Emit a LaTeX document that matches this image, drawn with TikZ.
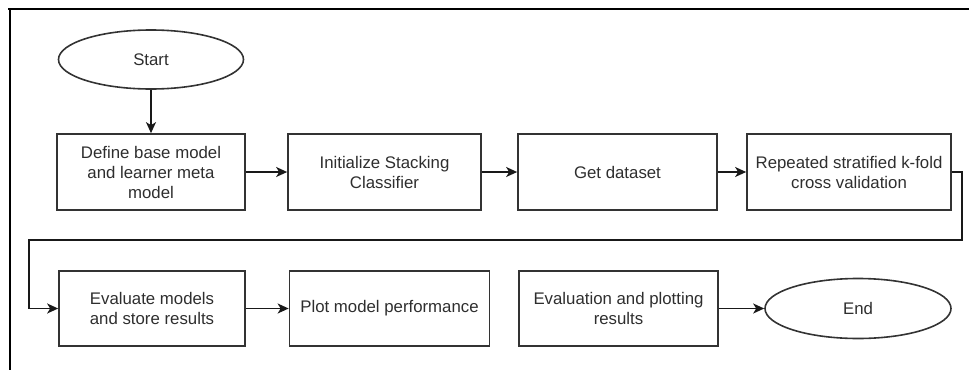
\documentclass[tikz,border=0pt]{standalone}
\usepackage{fontspec}
\setmainfont{Liberation Sans}
\usetikzlibrary{shapes.geometric,arrows.meta}

\begin{document}
\begin{tikzpicture}[x=1pt,y=-1pt,
  every node/.style={font=\fontsize{16.8}{20}\selectfont, text=black!82, align=center, inner sep=0pt},
  procbox/.style={draw=black!80, line width=1.7pt, rectangle, minimum height=76pt},
  terminal/.style={draw=black!80, line width=1.6pt, ellipse, minimum height=59pt},
  flow/.style={draw=black!90, line width=1.6pt, -{Stealth[length=11pt,width=10pt,inset=3pt]}},
  frame/.style={draw=black, line width=2.4pt}
]
\useasboundingbox (0,0) rectangle (969,370);

% page frame (top and left edges)
\draw[frame] (8,9) -- (969,9);
\draw[frame] (10,9) -- (10,370);

% first row
\node[terminal, minimum width=185pt] (start) at (151,59.5) {Start};
\node[procbox, minimum width=188pt] (define) at (151,172) {Define base model\\and learner meta\\model};
\node[procbox, minimum width=193pt] (init) at (384.5,172) {Initialize Stacking\\Classifier};
\node[procbox, minimum width=199pt] (data) at (617.5,172) {Get dataset};
\node[procbox, minimum width=204pt] (rskf) at (849,172) {Repeated stratified k-fold\\cross validation};

% second row
\node[procbox, minimum width=186pt, minimum height=75pt] (evalm) at (152,308.5) {Evaluate models\\and store results};
\node[procbox, minimum width=200pt, minimum height=75pt] (plot) at (389.5,308.5) {Plot model performance};
\node[procbox, minimum width=199pt, minimum height=75pt] (evalp) at (618.5,308.5) {Evaluation and plotting\\results};
\node[terminal, minimum width=186pt, minimum height=60pt] (stop) at (858,308.5) {End};

% wrap-around route from the first row to the second
\coordinate (tr) at (962,240);
\coordinate (tl) at (29,240);

\draw[flow] (start) -- (define);
\draw[flow] (define) -- (init);
\draw[flow] (init) -- (data);
\draw[flow] (data) -- (rskf);
\draw[flow] (rskf.east) -| (tr) -- (tl) |- (evalm.west);
\draw[flow] (evalm) -- (plot);
\draw[flow] (evalp) -- (stop);
\end{tikzpicture}
\end{document}
